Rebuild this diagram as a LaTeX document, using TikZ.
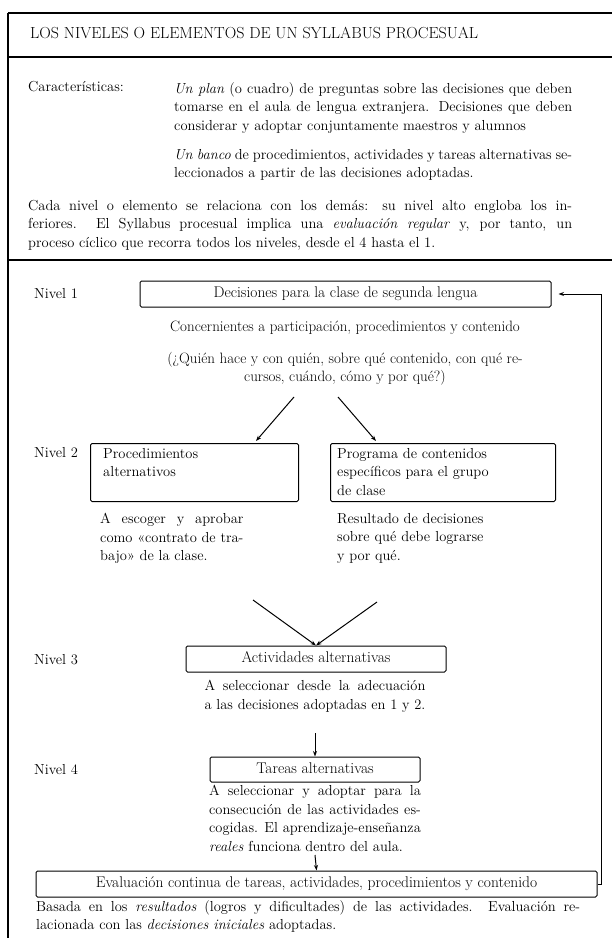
\documentclass[tikz,border=0pt]{standalone}
\usetikzlibrary{arrows.meta}
\newcommand{\fsz}{\fontsize{14.5}{18.5}\selectfont}
\newcommand{\fbx}{\fontsize{15.5}{18.5}\selectfont}
\newcommand{\fcn}{\fontsize{15}{18.5}\selectfont}
\newcommand{\jl}[2]{\makebox[#1][s]{#2}}
\newlength\wA
\newlength\wB
\newlength\wC
\newlength\wD
\newlength\wT
\settowidth\wA{\fsz como «contrato de tra-}
\settowidth\wB{\fsz Resultado de decisiones}
\settowidth\wT{\fsz sobre qué debe lograrse}
\ifdim\wT>\wB \wB=\wT\fi
\settowidth\wC{\fsz a las decisiones adoptadas en 1 y 2.}
\settowidth\wT{\fsz A seleccionar desde la adecuación}
\ifdim\wT>\wC \wC=\wT\fi
\settowidth\wD{\fsz A seleccionar y adoptar para la}
\settowidth\wT{\fsz consecución de las actividades es-}
\ifdim\wT>\wD \wD=\wT\fi
\settowidth\wT{\fsz cogidas. El aprendizaje-enseñanza}
\ifdim\wT>\wD \wD=\wT\fi
\begin{document}
\begin{tikzpicture}[x=1pt,y=-1pt,
  txt/.style={font=\fsz, inner sep=0pt, anchor=base west},
  para/.style={font=\fsz, inner sep=0pt, anchor=north west, align=left},
  boxn/.style={draw, line width=1pt, rounded corners=1.5pt, inner sep=0pt, font=\fbx, text height=10.5pt, text depth=3pt},
  frame/.style={line width=1.2pt},
  arr/.style={line width=1pt, -{Stealth[length=5.5pt,width=4pt]}}]
\useasboundingbox (0,0) rectangle (612,941);
% frame
\draw[frame] (8,13) -- (612,13);
\draw[frame] (8,57) -- (612,57);
\draw[frame] (8,260) -- (612,260);
\draw[frame] (8,13) -- (8,938);
% header
\node[txt, font=\fontsize{16}{18.5}\selectfont] (title) at (30,39) {LOS NIVELES O ELEMENTOS DE UN SYLLABUS PROCESUAL};
\node[txt] (carac) at (28,92) {Características:};
\node[para] (p1) at (174,82) {\jl{398pt}{\emph{Un plan} (o cuadro) de preguntas sobre las decisiones que deben}\\
\jl{398pt}{tomarse en el aula de lengua extranjera. Decisiones que deben}\\
considerar y adoptar conjuntamente maestros y alumnos};
\node[para] (p2) at (174,149) {\jl{398pt}{\emph{Un banco} de procedimientos, actividades y tareas alternativas se-}\\
leccionados a partir de las decisiones adoptadas.};
\node[para] (p3) at (28,200) {\jl{544pt}{Cada nivel o elemento se relaciona con los demás: su nivel alto engloba los in-}\\
\jl{544pt}{feriores. El Syllabus procesual implica una \emph{evaluación regular} y, por tanto, un}\\
proceso cíclico que recorra todos los niveles, desde el 4 hasta el 1.};
% level labels
\node[txt] (n1) at (34,298) {Nivel 1};
\node[txt] (n2) at (34,457) {Nivel 2};
\node[txt] (n3) at (34,664) {Nivel 3};
\node[txt] (n4) at (34,774) {Nivel 4};
% nivel 1
\node[boxn, minimum width=411, minimum height=26] (b1) at (345.5,294) {Decisiones para la clase de segunda lengua};
\node[font=\fcn, inner sep=0pt, anchor=base] (c1) at (345,331) {Concernientes a participación, procedimientos y contenido};
\node[font=\fcn, inner sep=0pt, anchor=north, align=center] (q1) at (345,352) {(¿Quién hace y con quién, sobre qué contenido, con qué re-\\cursos, cuándo, cómo y por qué?)};
% nivel 2
\node[boxn, minimum width=208, minimum height=58, anchor=north west] (b2l) at (90,443) {};
\node[para] (t2l) at (103,448) {Procedimientos\\alternativos};
\node[boxn, minimum width=225, minimum height=58, anchor=north west] (b2r) at (330,443) {};
\node[para] (t2r) at (337,448) {Programa de contenidos\\específicos para el grupo\\de clase};
\node[para] (d2l) at (100,513) {\jl{\wA}{A escoger y aprobar}\\
\jl{\wA}{como «contrato de tra-}\\
bajo» de la clase.};
\node[para] (d2r) at (337,513) {\jl{\wB}{Resultado de decisiones}\\
\jl{\wB}{sobre qué debe lograrse}\\
y por qué.};
\coordinate (a1s) at (294,397);
\coordinate (a1e) at (256,441);
\coordinate (a2s) at (338,397);
\coordinate (a2e) at (376,441);
\draw[arr] (a1s) -- (a1e);
\draw[arr] (a2s) -- (a2e);
% nivel 3
\node[boxn, minimum width=260, minimum height=26] (b3) at (316,659) {Actividades alternativas};
\coordinate (v1) at (253,600);
\coordinate (v2) at (377,602);
\draw[arr] (v1) -- (b3.north);
\draw[arr] (v2) -- (b3.north);
\node[para, anchor=north] (d3) at (315,680) {\jl{\wC}{A seleccionar desde la adecuación}\\
\jl{\wC}{a las decisiones adoptadas en 1 y 2.}};
% nivel 4
\node[boxn, minimum width=210, minimum height=25] (b4) at (315,769.5) {Tareas alternativas};
\coordinate (v3) at (315,733);
\draw[arr] (v3) -- (b4.north);
\node[para, anchor=north] (d4) at (315,785) {\jl{\wD}{A seleccionar y adoptar para la}\\
\jl{\wD}{consecución de las actividades es-}\\
\jl{\wD}{cogidas. El aprendizaje-enseñanza}\\
\makebox[\wD][l]{\emph{reales} funciona dentro del aula.}};
% evaluacion
\node[boxn, minimum width=561, minimum height=26] (ev) at (316.5,884) {Evaluación continua de tareas, actividades, procedimientos y contenido};
\coordinate (v4) at (315,855);
\draw[arr] (v4) -- (ev.north);
\node[para] (de) at (36,900) {\jl{544pt}{Basada en los \emph{resultados} (logros y dificultades) de las actividades. Evaluación re-}\\
lacionada con las \emph{decisiones iniciales} adoptadas.};
% feedback connector
\coordinate (cr) at (601,0);
\draw[arr, shorten >=7pt] (ev.east) -- (ev.east -| cr) -- (b1.east -| cr) -- (b1.east);
\end{tikzpicture}
\end{document}
